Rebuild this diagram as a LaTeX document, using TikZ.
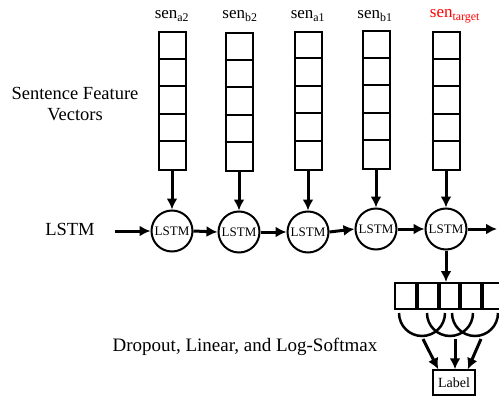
\documentclass[tikz,border=0pt]{standalone}
\usepackage{fontspec}
\setmainfont{Liberation Serif}
\usetikzlibrary{arrows.meta,positioning}
\tikzstyle{vec}=[draw, rectangle, line width=2pt, minimum width=27pt, minimum height=138pt, inner sep=0pt]
\tikzstyle{cell}=[draw, rectangle, line width=2pt, minimum width=23.5pt, minimum height=26pt, inner sep=0pt, outer sep=0pt]
\tikzstyle{lstm}=[draw, circle, line width=2pt, minimum size=41pt, inner sep=0pt, fill=white, font=\fontsize{13}{13}\selectfont]
\tikzstyle{flow}=[draw=black, -{Latex[length=11pt,width=11pt]}, line width=3pt]
\tikzstyle{senlabel}=[font=\fontsize{17}{17}\selectfont]
\tikzstyle{bigtext}=[font=\fontsize{18.5}{21}\selectfont, align=center]

\begin{document}
\begin{tikzpicture}[x=1pt, y=-1pt]
            \useasboundingbox (0,0) rectangle (499,399);

            % sentence vectors
            \begin{scope}[every node/.style={vec}]
                \node (v1) at (172,101) {};
                \node (v2) at (239,102) {};
                \node (v3) at (308,100.5) {};
                \node (v4) at (376,100) {};
                \node (v5) at (446,101) {};
            \end{scope}
            \foreach \v in {v1,v2,v3,v4,v5}
                \foreach \i in {1,...,4}
                    \draw[line width=2pt] ([yshift=-\i*27.6pt]\v.north west) -- ([yshift=-\i*27.6pt]\v.north east);

            \begin{scope}[every node/.style={senlabel}]
                \node (s1) at (172,16) {sen\textsubscript{a2}};
                \node (s2) at (240,16) {sen\textsubscript{b2}};
                \node (s3) at (308,16) {sen\textsubscript{a1}};
                \node (s4) at (375,16) {sen\textsubscript{b1}};
                \node[text=red] (s5) at (455,16) {sen\textsubscript{target}};
            \end{scope}

            % lstm chain
            \begin{scope}[every node/.style={lstm}]
                \node (l1) at (172,231) {LSTM};
                \node (l2) at (239,232) {LSTM};
                \node (l3) at (308,232) {LSTM};
                \node (l4) at (376,229) {LSTM};
                \node (l5) at (446,229) {LSTM};
            \end{scope}
            \coordinate (in) at (115,231);
            \coordinate (out) at (497,229);

            \begin{scope}[every path/.style={flow}]
                \path (v1.south) -- (l1.north);
                \path (v2.south) -- (l2.north);
                \path (v3.south) -- (l3.north);
                \path (v4.south) -- (l4.north);
                \path (v5.south) -- (l5.north);
                \path (in) -- (l1.west);
                \path (l1.east) -- (l2.west);
                \path (l2.east) -- (l3.west);
                \path (l3.east) -- (l4.west);
                \path (l4.east) -- (l5.west);
                \path (l5.east) -- (out);
            \end{scope}

            % output layer
            \begin{scope}[node distance=-2pt, every node/.style={cell}]
                \node (o1) at (406.5,296) {};
                \node[right=of o1] (o2) {};
                \node[right=of o2] (o3) {};
                \node[right=of o3] (o4) {};
                \node[right=of o4] (o5) {};
            \end{scope}
            \draw[flow] (l5.south) -- ([yshift=1pt]o3.north -| l5.south);

            \draw[line width=2.5pt] (399,313) arc (180:0:23);
            \draw[line width=2.5pt] (427,313) arc (180:0:23);
            \draw[line width=2.5pt] (452,313) arc (180:0:23);

            \node[draw, line width=1.5pt, minimum width=42pt, minimum height=25pt, inner sep=0pt, font=\fontsize{14}{14}\selectfont] (lab) at (454,382.5) {Label};
            \coordinate (d1) at (423,339);
            \coordinate (d2) at (455,339);
            \coordinate (d3) at (481,339);
            \begin{scope}[every path/.style={flow}]
                \path (d1) -- ([xshift=6pt]lab.north west);
                \path (d2) -- ([xshift=1pt]lab.north);
                \path (d3) -- ([xshift=-8pt]lab.north east);
            \end{scope}

            % side texts
            \begin{scope}[every node/.style={bigtext}]
                \node (t1) at (75,104) {Sentence Feature\\Vectors};
                \node (t2) at (70,229) {LSTM};
                \node[font=\fontsize{19}{21}\selectfont] (t3) at (245,347) {Dropout, Linear, and Log-Softmax};
            \end{scope}
        \end{tikzpicture}
\end{document}
